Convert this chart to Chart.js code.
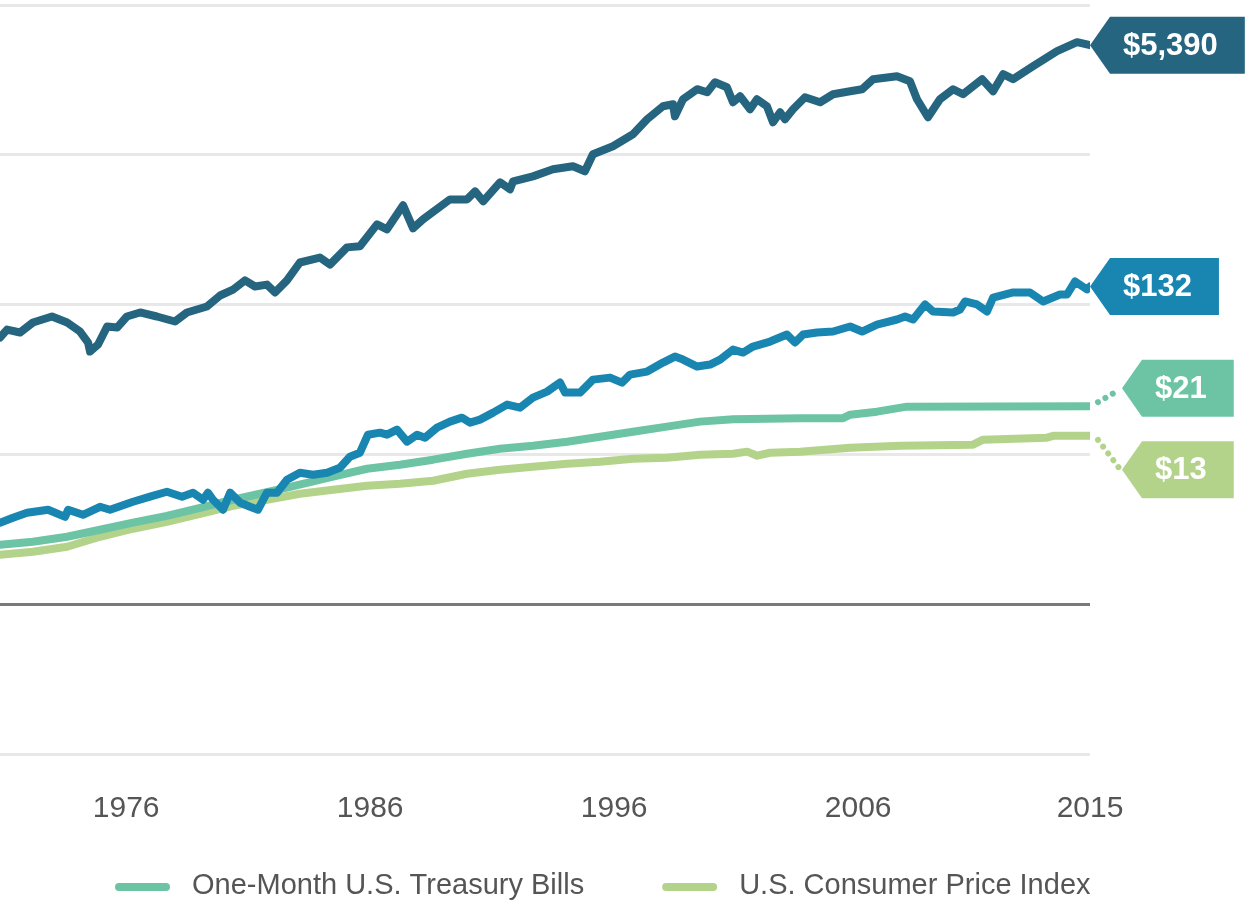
<!DOCTYPE html>
<html>
<head>
<meta charset="utf-8">
<script src="https://cdn.jsdelivr.net/npm/chart.js@4.4.1/dist/chart.umd.min.js"></script>
<style>
  html, body { margin: 0; padding: 0; background: #ffffff; }
  #wrap { width: 1246px; height: 901px; }
  canvas { display: block; }
</style>
</head>
<body>
<div id="wrap"><canvas id="chart" width="1246" height="901"></canvas></div>
<script>
// ---------------- DATA ----------------
const SERIES_NAMES = ['S&P 500', 'Long-Term Government Bonds', 'One-Month U.S. Treasury Bills', 'U.S. Consumer Price Index'];
const END_LABELS = ['$5,390', '$132', '$21', '$13'];
const TICK_YEARS = [1976, 1986, 1996, 2006, 2015];
const Y_GRID_VALUES = [0.1, 1, 10, 100, 1000, 10000];

const SP_YEARS = [1971.33,1971.62,1972.15,1972.68,1973.46,1974.08,1974.61,1974.94,1975.02,1975.35,1975.72,1976.13,1976.53,1977.07,1977.76,1978.5,1978.99,1979.81,1980.35,1980.88,1981.37,1981.78,1982.27,1982.6,1983.09,1983.62,1984.44,1984.85,1985.55,1986.08,1986.78,1987.19,1987.85,1988.26,1988.67,1989.77,1990.47,1990.8,1991.13,1991.82,1992.23,1992.36,1993.17,1993.99,1994.81,1995.3,1995.63,1996.45,1997.27,1997.85,1998.5,1998.91,1998.99,1999.32,1999.9,2000.31,2000.63,2001.12,2001.37,2001.66,2002.07,2002.35,2002.76,2003.01,2003.3,2003.5,2003.83,2004.32,2004.94,2005.47,2006.17,2006.66,2007.11,2008.09,2008.62,2008.91,2009.36,2009.85,2010.39,2010.8,2011.58,2012.03,2012.44,2012.85,2013.67,2014.65,2015.47,2016.0];
const SP_VALUES = [60.3,68.1,65.1,75.9,83.3,75.9,66.1,55.8,48.6,54.1,71.4,70.3,83.3,88.6,83.3,77.1,88.6,97.1,115,126,145,132,136,120.5,145,191,206,185,241,245,343,318,460,323,371,504,504,570,489,655,588,665,718,800,838,776,1008,1140,1371,1727,2110,2176,1809,2350,2741,2617,3052,2827,2243,2461,2015,2350,2110,1649,1924,1727,2015,2423,2243,2537,2657,2741,3197,3347,3099,2350,1781,2350,2741,2537,3197,2657,3452,3197,3905,4918,5649,5390];

const BOND_YEARS = [1971.33,1971.86,1972.44,1973.3,1974.0,1974.12,1974.73,1975.43,1975.84,1976.78,1977.48,1978.17,1978.79,1979.24,1979.65,1979.85,1980.06,1980.47,1980.76,1981.17,1981.58,1981.9,1982.27,1982.68,1983.09,1983.62,1984.16,1984.73,1985.26,1985.67,1986.08,1986.41,1986.9,1987.19,1987.6,1988.01,1988.42,1988.75,1989.24,1989.77,1990.26,1990.59,1991.0,1991.54,1992.11,1992.64,1993.17,1993.75,1994.28,1994.49,1995.1,1995.63,1996.33,1996.82,1997.15,1997.85,1998.5,1998.99,1999.32,1999.9,2000.43,2000.84,2001.37,2001.78,2002.19,2002.89,2003.58,2003.91,2004.24,2004.81,2005.47,2006.17,2006.66,2007.27,2008.09,2008.42,2008.75,2009.24,2009.57,2010.39,2010.67,2010.88,2011.37,2011.78,2012.03,2012.85,2013.54,2014.08,2014.77,2015.06,2015.39,2015.88,2016.0];
const BOND_VALUES = [3.50,3.78,4.08,4.27,3.83,4.27,3.95,4.47,4.27,4.83,5.22,5.63,5.22,5.55,4.98,5.55,4.98,4.27,5.55,4.76,4.47,4.27,5.55,5.55,6.77,7.55,7.32,7.55,8.15,9.65,10.26,13.54,13.97,13.54,14.63,12.16,13.54,12.93,15.09,16.55,17.59,16.29,17.06,19.0,21.49,20.52,23.93,26.25,30.16,25.85,25.85,31.57,32.56,30.16,34.1,35.71,41.02,44.99,42.96,38.58,39.78,42.96,50.11,47.84,52.48,56.67,63.11,55.82,63.11,65.1,66.11,71.4,66.11,73.62,79.53,83.27,79.53,100.2,89.94,88.56,92.73,104.9,100.2,89.94,111.5,120.5,120.5,104.9,116.8,116.8,142.7,126.2,132];

const TBILL_YEARS = [1971.33,1972.68,1974.08,1975.43,1976.78,1978.17,1979.53,1980.88,1981.99,1983.22,1984.98,1986.37,1987.72,1989.08,1990.47,1991.82,1993.17,1994.57,1995.92,1997.27,1998.66,2000.02,2001.37,2002.76,2004.12,2005.88,2006.17,2007.27,2008.5,2016.0];
const TBILL_VALUES = [2.49,2.61,2.82,3.14,3.50,3.89,4.40,4.98,5.46,6.08,7.10,8.02,8.53,9.22,10.11,10.92,11.43,12.16,13.13,14.18,15.32,16.55,17.19,17.32,17.40,17.46,18.42,19.29,20.84,21.0];

const CPI_YEARS = [1971.33,1972.68,1974.08,1975.43,1976.78,1978.17,1979.53,1980.88,1982.27,1983.62,1984.98,1986.37,1987.72,1989.08,1990.47,1991.82,1993.17,1994.57,1995.92,1997.27,1998.66,2000.02,2001.37,2001.95,2002.36,2002.89,2004.12,2006.17,2008.22,2011.21,2011.62,2014.24,2014.49,2016.0];
const CPI_VALUES = [2.14,2.24,2.42,2.82,3.19,3.55,4.01,4.54,4.98,5.46,5.81,6.18,6.37,6.67,7.43,7.90,8.28,8.67,8.94,9.36,9.51,9.95,10.1,10.43,9.8,10.26,10.43,11.08,11.43,11.61,12.54,12.93,13.3,13.3];

// ---------------- STYLE ----------------
const COLORS = ['#256580', '#1985b1', '#6cc4a5', '#b3d38a'];
const FONT = '"Liberation Sans", Arial, Helvetica, sans-serif';

const toPoints = (xs, ys) => xs.map((x, i) => ({ x: x, y: ys[i] }));
const SERIES = [
  [SP_YEARS, SP_VALUES],
  [BOND_YEARS, BOND_VALUES],
  [TBILL_YEARS, TBILL_VALUES],
  [CPI_YEARS, CPI_VALUES]
];

const datasets = SERIES.map((s, i) => ({
  label: SERIES_NAMES[i],
  data: toPoints(s[0], s[1]),
  borderColor: COLORS[i],
  backgroundColor: COLORS[i],
  borderWidth: 8,
  pointRadius: 0,
  pointHoverRadius: 0,
  tension: 0,
  fill: false,
  borderCapStyle: 'round',
  borderJoinStyle: 'round'
}));

const allYears = [].concat(SP_YEARS, BOND_YEARS, TBILL_YEARS, CPI_YEARS);
const X_MIN = Math.min.apply(null, allYears);
const X_MAX = Math.max.apply(null, allYears);

// end-of-line value tags
const endTags = {
  id: 'endTags',
  afterDatasetsDraw(chart, args, opts) {
    const ctx = chart.ctx;
    chart.data.datasets.forEach((ds, i) => {
      const meta = chart.getDatasetMeta(i);
      const pt = meta.data[meta.data.length - 1];
      const off = opts.offsets[i];
      const tipX = pt.x + off.dx;
      const tipY = pt.y + off.dy;
      ctx.save();
      if (off.dx) {
        const sgn = Math.sign(off.dy);
        ctx.strokeStyle = ds.borderColor;
        ctx.lineWidth = 6;
        ctx.lineCap = 'round';
        ctx.setLineDash([0.01, 8.5]);
        ctx.beginPath();
        ctx.moveTo(pt.x + 8, pt.y + sgn * 4);
        ctx.lineTo(tipX - 3, tipY - sgn * 2);
        ctx.stroke();
        ctx.setLineDash([]);
      }
      ctx.font = 'bold 31px ' + FONT;
      const tw = ctx.measureText(END_LABELS[i]).width;
      const slant = 20, h = 57;
      const left = tipX + slant;
      const right = left + tw + 40;
      ctx.fillStyle = ds.borderColor;
      ctx.beginPath();
      ctx.moveTo(tipX, tipY);
      ctx.lineTo(left, tipY - h / 2);
      ctx.lineTo(right, tipY - h / 2);
      ctx.lineTo(right, tipY + h / 2);
      ctx.lineTo(left, tipY + h / 2);
      ctx.closePath();
      ctx.fill();
      ctx.fillStyle = '#ffffff';
      ctx.textAlign = 'left';
      ctx.textBaseline = 'middle';
      ctx.fillText(END_LABELS[i], left + 13, tipY + 1);
      ctx.restore();
    });
  }
};

// bottom legend (only the two series visible in the reference)
const bottomLegend = {
  id: 'bottomLegend',
  afterDraw(chart, args, opts) {
    const ctx = chart.ctx;
    let x = opts.left;
    const y = opts.y;
    ctx.save();
    ctx.font = '29px ' + FONT;
    ctx.textBaseline = 'middle';
    ctx.textAlign = 'left';
    opts.items.forEach(i => {
      const ds = chart.data.datasets[i];
      ctx.strokeStyle = ds.borderColor;
      ctx.lineWidth = 8;
      ctx.lineCap = 'round';
      ctx.beginPath();
      ctx.moveTo(x + 4, y + 1);
      ctx.lineTo(x + 51, y + 1);
      ctx.stroke();
      ctx.fillStyle = '#555555';
      ctx.fillText(ds.label, x + 77, y);
      x += 77 + ctx.measureText(ds.label).width + 78;
    });
    ctx.restore();
  }
};

new Chart(document.getElementById('chart'), {
  type: 'line',
  data: { datasets: datasets },
  plugins: [endTags, bottomLegend],
  options: {
    responsive: false,
    maintainAspectRatio: false,
    animation: false,
    devicePixelRatio: 1,
    events: [],
    layout: { padding: { left: 0, right: 156, top: 5, bottom: 37 } },
    plugins: {
      legend: { display: false },
      tooltip: { enabled: false },
      title: { display: false },
      endTags: { offsets: [ {dx: 0, dy: 0}, {dx: 0, dy: 0}, {dx: 32, dy: -18}, {dx: 32, dy: 34} ] },
      bottomLegend: { items: [2, 3], left: 115, y: 886 }
    },
    scales: {
      x: {
        type: 'linear',
        min: X_MIN,
        max: X_MAX,
        grid: { display: false, drawTicks: false },
        border: { display: false },
        afterBuildTicks: (scale) => {
          scale.ticks = TICK_YEARS.map((yr, i) => ({ value: i === TICK_YEARS.length - 1 ? scale.max : yr + 0.5 }));
        },
        ticks: {
          autoSkip: false,
          maxRotation: 0,
          minRotation: 0,
          padding: 37,
          color: '#555555',
          font: { family: FONT, size: 30 },
          callback: (value, index) => String(TICK_YEARS[index])
        }
      },
      y: {
        type: 'logarithmic',
        min: Y_GRID_VALUES[0],
        max: Y_GRID_VALUES[Y_GRID_VALUES.length - 1],
        afterBuildTicks: (scale) => {
          scale.ticks = Y_GRID_VALUES.map(v => ({ value: v }));
        },
        ticks: { display: false },
        grid: {
          drawTicks: false,
          lineWidth: 3,
          color: (c) => (c.tick && c.tick.value === 1) ? '#7a7a7a' : '#e8e8e8'
        },
        border: { display: false }
      }
    }
  }
});
</script>
</body>
</html>
